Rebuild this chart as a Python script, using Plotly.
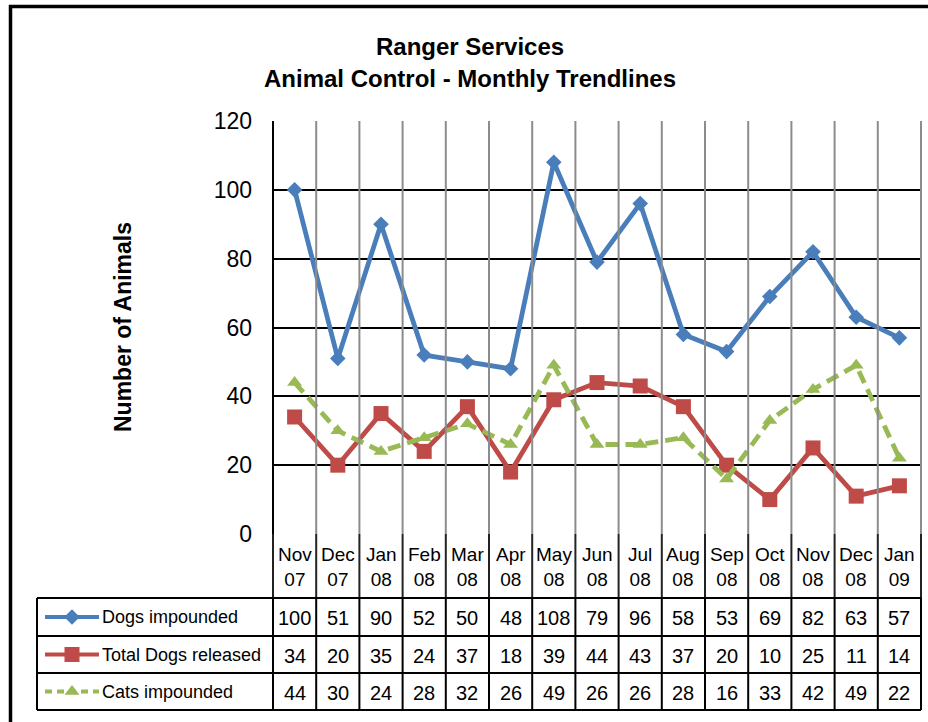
import plotly.graph_objects as go

# Monthly animal control figures
months = ["Nov<br>07", "Dec<br>07", "Jan<br>08", "Feb<br>08", "Mar<br>08", "Apr<br>08",
          "May<br>08", "Jun<br>08", "Jul<br>08", "Aug<br>08", "Sep<br>08", "Oct<br>08",
          "Nov<br>08", "Dec<br>08", "Jan<br>09"]
dogs_impounded = [100, 51, 90, 52, 50, 48, 108, 79, 96, 58, 53, 69, 82, 63, 57]
dogs_released = [34, 20, 35, 24, 37, 18, 39, 44, 43, 37, 20, 10, 25, 11, 14]
cats_impounded = [44, 30, 24, 28, 32, 26, 49, 26, 26, 28, 16, 33, 42, 49, 22]
series_names = ["Dogs impounded", "Total Dogs released", "Cats impounded"]
y_ticks = [0, 20, 40, 60, 80, 100, 120]

W, H = 928, 722
FONT = "Liberation Sans, Arial, sans-serif"
BLUE, RED, GREEN = "#4A7EBB", "#BE4B48", "#98B954"


def px(x):
    return x / W


def py(y):
    return 1 - y / H


# plot-area geometry (pixels)
L, R, T, B = 273, 921, 121, 534
n = len(months)
col_w = (R - L) / n
edges = [L + k * col_w for k in range(n + 1)]
row_edges = [598, 636, 673, 710]
legend_left = 37

series = [
    (dogs_impounded, BLUE, "solid", "diamond", 12),
    (dogs_released, RED, "solid", "square", 15),
    (cats_impounded, GREEN, "13px,7px", "triangle-up", 13),
]

fig = go.Figure()
idx = list(range(n))
for (vals, col, dash, sym, size), name in zip(series, series_names):
    fig.add_trace(go.Scatter(
        x=idx, y=vals, mode="lines+markers", name=name,
        line=dict(color=col, width=4.8, dash=dash),
        marker=dict(symbol=sym, size=size, color=col),
        xaxis="x", yaxis="y", showlegend=False, cliponaxis=False,
    ))

# legend key samples in the data table, on a full-page pixel axis
for r, ((vals, col, dash, sym, size), name) in enumerate(zip(series, series_names)):
    yc = (row_edges[r] + row_edges[r + 1]) / 2
    fig.add_trace(go.Scatter(
        x=[45, 72, 99], y=[yc, yc, yc], mode="lines",
        line=dict(color=col, width=4, dash="7px,5px" if dash != "solid" else "solid"),
        xaxis="x2", yaxis="y2", showlegend=False, hoverinfo="skip",
    ))
    fig.add_trace(go.Scatter(
        x=[72], y=[yc], mode="markers",
        marker=dict(symbol=sym, size=size, color=col),
        xaxis="x2", yaxis="y2", showlegend=False, hoverinfo="skip",
    ))

shapes = []


def hline(x0, x1, y, color="black", width=2):
    shapes.append(dict(type="line", xref="paper", yref="paper", x0=px(x0), x1=px(x1),
                       y0=py(y), y1=py(y), line=dict(color=color, width=width)))


def vline(x, y0, y1, color="black", width=2):
    shapes.append(dict(type="line", xref="paper", yref="paper", x0=px(x), x1=px(x),
                       y0=py(y0), y1=py(y1), line=dict(color=color, width=width)))


# outer frame
hline(9, W, 6.5, width=3.5)
vline(10.5, 5, H, width=3.5)

# vertical grid of the plot area
for k in range(1, n):
    vline(edges[k], T, B, color="#8C8C8C", width=2)
vline(R, T, B, color="#8C8C8C", width=2)
vline(L, T, B, color="black", width=2)

# category label row
for k in range(n + 1):
    vline(edges[k], B, row_edges[0], color="#222222", width=2)

# data table
for y in row_edges:
    hline(legend_left, R, y, width=2)
vline(legend_left, row_edges[0], row_edges[-1], width=2)
for k in range(n + 1):
    vline(edges[k], row_edges[0], row_edges[-1], width=2)

annotations = []
# category labels
for k, m in enumerate(months):
    annotations.append(dict(x=k, xref="x", y=py((B + row_edges[0]) / 2 + 1), yref="paper",
                            text=m, showarrow=False, font=dict(family=FONT, size=19, color="black"),
                            xanchor="center", yanchor="middle"))
# table values
for r, vals in enumerate([dogs_impounded, dogs_released, cats_impounded]):
    yc = (row_edges[r] + row_edges[r + 1]) / 2
    for k, v in enumerate(vals):
        annotations.append(dict(x=k, xref="x", y=py(yc + 1), yref="paper", text=str(v),
                                showarrow=False, font=dict(family=FONT, size=20, color="black"),
                                xanchor="center", yanchor="middle"))
    annotations.append(dict(x=px(100), xref="paper", y=py(yc), yref="paper", text=series_names[r],
                            showarrow=False, font=dict(family=FONT, size=18, color="black"),
                            xanchor="left", yanchor="middle"))

# titles
annotations.append(dict(x=px(470), y=py(46), xref="paper", yref="paper",
                        text="<b>Ranger Services</b>", showarrow=False,
                        font=dict(family=FONT, size=24, color="black"), xanchor="center", yanchor="middle"))
annotations.append(dict(x=px(470), y=py(79), xref="paper", yref="paper",
                        text="<b>Animal Control - Monthly Trendlines</b>", showarrow=False,
                        font=dict(family=FONT, size=24, color="black"), xanchor="center", yanchor="middle"))
annotations.append(dict(x=px(123), y=py(327), xref="paper", yref="paper",
                        text="<b>Number of Animals</b>", showarrow=False, textangle=-90,
                        font=dict(family=FONT, size=23, color="black"),
                        xanchor="center", yanchor="middle"))

fig.update_layout(
    width=W, height=H,
    margin=dict(l=0, r=0, t=0, b=0, autoexpand=False),
    paper_bgcolor="white", plot_bgcolor="rgba(0,0,0,0)",
    xaxis=dict(domain=[px(L), px(R)], range=[-0.5, n - 0.5], showticklabels=False,
               showgrid=False, zeroline=False, ticks="", fixedrange=True, automargin=False),
    yaxis=dict(domain=[py(B), py(T)], range=[0, 120], tickvals=y_ticks,
               showgrid=True, gridcolor="black", gridwidth=2, zeroline=False,
               ticks="", ticklabelstandoff=20, automargin=False,
               tickfont=dict(family=FONT, size=23, color="black")),
    xaxis2=dict(domain=[0, 1], range=[0, W], visible=False, fixedrange=True, anchor="y2",
                automargin=False),
    yaxis2=dict(domain=[0, 1], range=[H, 0], visible=False, fixedrange=True, anchor="x2",
                automargin=False),
    shapes=shapes,
    annotations=annotations,
    showlegend=False,
)

fig.write_html("out.html")
